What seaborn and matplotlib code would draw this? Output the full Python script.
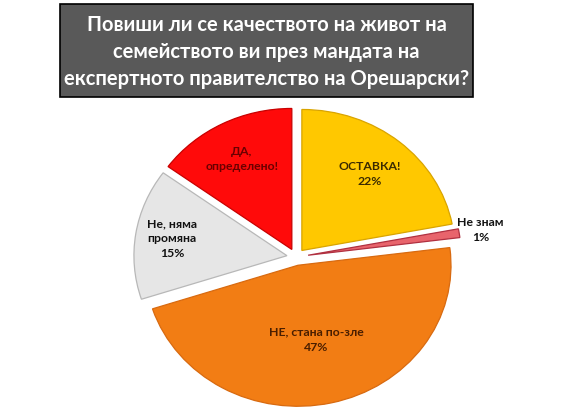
import numpy as np
import matplotlib
matplotlib.use("Agg")
import matplotlib.pyplot as plt
from matplotlib.patches import Rectangle
import seaborn as sns

# Данни
категории = ["ОСТАВКА!", "Не знам", "НЕ, стана по-зле", "Не, няма промяна", "ДА, определено!"]
етикети = ["ОСТАВКА!\n22%", "Не знам\n1%", "НЕ, стана по-зле\n47%", "Не, няма\nпромяна\n15%", "ДА,\nопределено!"]
проценти = [22, 1, 47, 15, 15]

ЗАГЛАВИЕ = ("Повиши ли се качеството на живот на\n"
            "семейството ви през мандата на\n"
            "експертното правителство на Орешарски?")

# Стил
цветове = ["#FFC800", "#E8646C", "#F27D14", "#E6E6E6", "#FF0A0A"]
ръбове = ["#D9A400", "#B03040", "#D86A10", "#B8B8B8", "#C80000"]
цвят_текст = ["#3A2A00", "#111111", "#4A1E00", "#111111", "#6A0000"]
разстояние = [0.76, 1.22, 0.60, 0.82, 0.78]
изместване = [0.06, 0.08, 0.06, 0.06, 0.06]

sns.set_theme(style="white")
plt.rcParams["font.family"] = ["Lato", "DejaVu Sans"]

fig = plt.figure(figsize=(5.69, 4.15), dpi=100, facecolor="white")

# Пай (елипса)
cx, cy, rx, ry = 296, 257, 153, 141
W, H = 569, 415
xl, yl = 1.2, 1.1
ax = fig.add_axes([(cx - xl * rx) / W, (H - cy - yl * ry) / H,
                   2 * xl * rx / W, 2 * yl * ry / H])
wedges, _ = ax.pie(проценти, startangle=90, counterclock=False,
                   colors=цветове, explode=изместване,
                   wedgeprops={"linewidth": 0.9})
for w, ec in zip(wedges, ръбове):
    w.set_edgecolor(ec)
ax.set_aspect("auto")
ax.set_xlim(-xl, xl)
ax.set_ylim(-yl, yl)
ax.axis("off")

for w, lab, r, tc in zip(wedges, етикети, разстояние, цвят_текст):
    ang = np.deg2rad((w.theta1 + w.theta2) / 2)
    ax.text(r * np.cos(ang), r * np.sin(ang), lab, ha="center", va="center",
            fontsize=8.8, fontweight="bold", color=tc, linespacing=1.45)

# Заглавие в тъмна кутия
fig.patches.append(Rectangle((60 / W, 1 - 97 / H), 413 / W, 93 / H,
                             transform=fig.transFigure, facecolor="#595959",
                             edgecolor="black", linewidth=1.2))
fig.text(266.5 / W, 1 - 52 / H, ЗАГЛАВИЕ, ha="center", va="center",
         fontsize=14.5, fontweight="bold", color="white", linespacing=1.45)

fig.savefig("out.png", dpi=100, facecolor="white")
